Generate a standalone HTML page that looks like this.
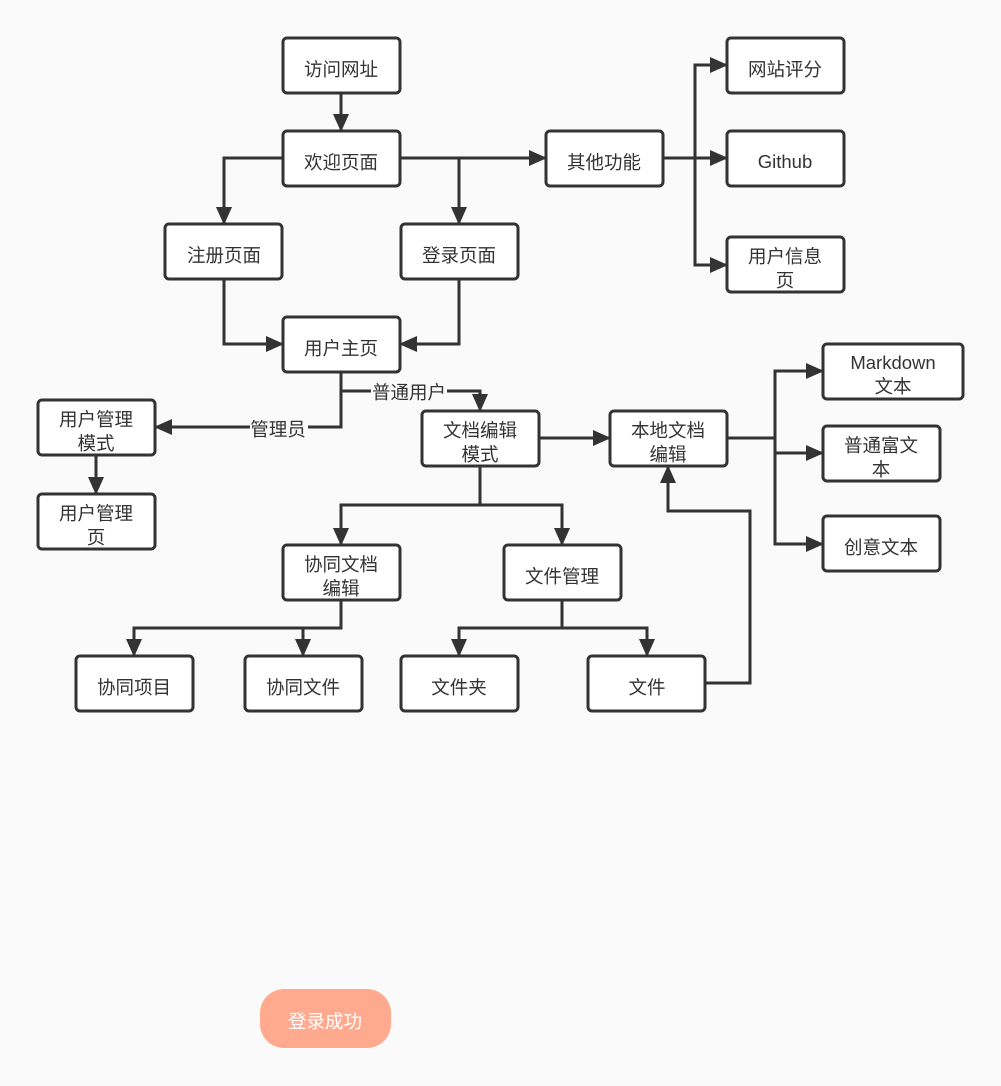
<!DOCTYPE html>
<html><head><meta charset="utf-8"><style>
html,body{margin:0;padding:0;background:#fafafa;}
svg{display:block;}
text{font-family:"Liberation Sans","Noto Sans CJK SC",sans-serif;font-size:18.5px;fill:#333;text-anchor:middle;}
</style></head><body>
<svg width="1001" height="1086" viewBox="0 0 1001 1086" xmlns="http://www.w3.org/2000/svg">
<defs>
<marker id="b" markerWidth="18" markerHeight="18" refX="17" refY="9" orient="auto" markerUnits="userSpaceOnUse" viewBox="0 0 18 18"><path d="M0,1 L18,9 L0,17z" fill="#333"/></marker></defs>
<rect width="1001" height="1086" fill="#fafafa"/>
<g fill="none" stroke="#333" stroke-width="3">
<path d="M341,93V131" marker-end="url(#b)"/>
<path d="M283,158H224V224" marker-end="url(#b)"/>
<path d="M400,158H546" marker-end="url(#b)"/>
<path d="M459,158V224" marker-end="url(#b)"/>
<path d="M663,158H695V65H727" marker-end="url(#b)"/>
<path d="M695,158H727" marker-end="url(#b)"/>
<path d="M695,158V265H727" marker-end="url(#b)"/>
<path d="M224,279V344H283" marker-end="url(#b)"/>
<path d="M459,279V344H400" marker-end="url(#b)"/>
<path d="M341,372V427H155" marker-end="url(#b)"/>
<path d="M341,391H480V411" marker-end="url(#b)"/>
<path d="M96,455V494" marker-end="url(#b)"/>
<path d="M539,438H610" marker-end="url(#b)"/>
<path d="M727,438H775V371H823" marker-end="url(#b)"/>
<path d="M775,438V453H823" marker-end="url(#b)"/>
<path d="M775,453V544H823" marker-end="url(#b)"/>
<path d="M480,466V505H341V545" marker-end="url(#b)"/>
<path d="M480,505H562V545" marker-end="url(#b)"/>
<path d="M341,600V628H134V656" marker-end="url(#b)"/>
<path d="M303,628V656" marker-end="url(#b)"/>
<path d="M562,600V628H459V656" marker-end="url(#b)"/>
<path d="M562,628H647V656" marker-end="url(#b)"/>
<path d="M705,683H750V511H668V466" marker-end="url(#b)"/>
</g>
<rect x="250" y="418" width="58" height="22" fill="#fafafa"/>
<text x="278" y="436">管理员</text>
<rect x="371" y="381" width="76" height="22" fill="#fafafa"/>
<text x="409" y="399">普通用户</text>
<g fill="#fff" stroke="#333" stroke-width="3">
<rect x="283" y="38" width="117" height="55" rx="4"/>
<rect x="283" y="131" width="117" height="55" rx="4"/>
<rect x="546" y="131" width="117" height="55" rx="4"/>
<rect x="727" y="38" width="117" height="55" rx="4"/>
<rect x="727" y="131" width="117" height="55" rx="4"/>
<rect x="727" y="237" width="117" height="55" rx="4"/>
<rect x="165" y="224" width="117" height="55" rx="4"/>
<rect x="401" y="224" width="117" height="55" rx="4"/>
<rect x="283" y="317" width="117" height="55" rx="4"/>
<rect x="38" y="400" width="117" height="55" rx="4"/>
<rect x="38" y="494" width="117" height="55" rx="4"/>
<rect x="422" y="411" width="117" height="55" rx="4"/>
<rect x="610" y="411" width="117" height="55" rx="4"/>
<rect x="823" y="344" width="140" height="55" rx="4"/>
<rect x="823" y="426" width="117" height="55" rx="4"/>
<rect x="823" y="516" width="117" height="55" rx="4"/>
<rect x="283" y="545" width="117" height="55" rx="4"/>
<rect x="504" y="545" width="117" height="55" rx="4"/>
<rect x="76" y="656" width="117" height="55" rx="4"/>
<rect x="245" y="656" width="117" height="55" rx="4"/>
<rect x="401" y="656" width="117" height="55" rx="4"/>
<rect x="588" y="656" width="117" height="55" rx="4"/>
</g>
<text x="341" y="76">访问网址</text>
<text x="341" y="169">欢迎页面</text>
<text x="604" y="169">其他功能</text>
<text x="785" y="76">网站评分</text>
<text x="785" y="168">Github</text>
<text x="785" y="263">用户信息</text><text x="785" y="287">页</text>
<text x="224" y="262">注册页面</text>
<text x="459" y="262">登录页面</text>
<text x="341" y="355">用户主页</text>
<text x="96" y="426">用户管理</text><text x="96" y="450">模式</text>
<text x="96" y="520">用户管理</text><text x="96" y="544">页</text>
<text x="480" y="437">文档编辑</text><text x="480" y="461">模式</text>
<text x="668" y="437">本地文档</text><text x="668" y="461">编辑</text>
<text x="893" y="369">Markdown</text><text x="893" y="393">文本</text>
<text x="881" y="452">普通富文</text><text x="881" y="476">本</text>
<text x="881" y="554">创意文本</text>
<text x="341" y="571">协同文档</text><text x="341" y="595">编辑</text>
<text x="562" y="583">文件管理</text>
<text x="134" y="694">协同项目</text>
<text x="303" y="694">协同文件</text>
<text x="459" y="694">文件夹</text>
<text x="647" y="694">文件</text>
<rect x="260" y="989" width="131" height="59" rx="24" fill="#ffa98f"/>
<text x="325" y="1028" style="fill:#fff">登录成功</text>
</svg>
</body></html>
